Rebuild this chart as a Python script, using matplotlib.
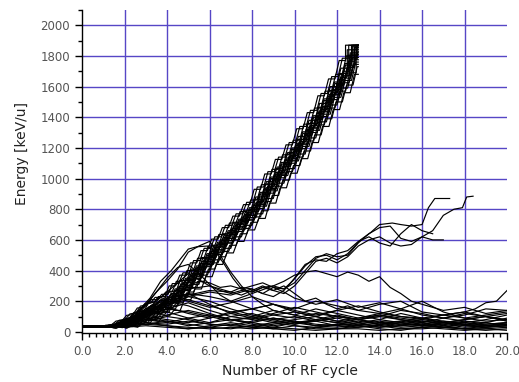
import numpy as np
import matplotlib
matplotlib.use("Agg")
import matplotlib.pyplot as plt
from matplotlib.ticker import MultipleLocator, AutoMinorLocator

# accelerated bunch: staircase levels (start of each flat step, energy)
bunch_x = [1.5, 2.0, 2.5, 3.0, 3.5, 4.0, 4.5, 5.0, 5.5, 6.0, 6.5, 7.0, 7.5, 8.0,
           8.5, 9.0, 9.5, 10.0, 10.5, 11.0, 11.5, 12.0, 12.5, 12.8]
bunch_e = [40, 60, 90, 130, 165, 200, 270, 340, 420, 500, 575, 650, 725, 800,
           900, 1000, 1095, 1190, 1295, 1400, 1510, 1620, 1740, 1860]
# particle offsets inside the bunch (phase lag, energy)
bunch_dx = [-0.40, -0.32, -0.25, -0.18, -0.12, -0.06, 0.0, 0.05, 0.10, 0.15, 0.20,
            0.26, 0.32, 0.38, 0.45, -0.28, 0.12, 0.02, 0.24, -0.10, 0.34, -0.20]
bunch_dy = [30, -20, 45, -40, 10, 60, -15, 25, -50, 40, -30,
            5, -60, 20, -10, -55, 65, -5, 50, 0, 35, -70]
bunch_end = 13.0
bunch_top = 1870

# particles staying near injection energy (sampled every RF cycle, 2..20)
low_x = [2, 3, 4, 5, 6, 7, 8, 9, 10, 11, 12, 13, 14, 15, 16, 17, 18, 19, 20]
low_e = [
    [60, 90, 70, 40, 60, 80, 50, 30, 60, 70, 40, 30, 50, 60, 40, 30, 50, 40, 30],
    [50, 70, 100, 80, 50, 40, 70, 90, 60, 40, 30, 50, 70, 50, 40, 60, 50, 30, 40],
    [70, 110, 130, 90, 60, 100, 120, 80, 50, 70, 100, 80, 60, 40, 50, 70, 60, 40, 50],
    [40, 60, 40, 20, 30, 50, 30, 20, 40, 30, 20, 30, 40, 20, 20, 30, 20, 20, 30],
    [80, 130, 160, 120, 90, 120, 150, 110, 90, 120, 100, 80, 110, 90, 70, 60, 80, 100, 70],
    [60, 100, 150, 190, 140, 100, 80, 110, 130, 100, 70, 90, 120, 100, 80, 110, 90, 70, 80],
    [50, 80, 60, 90, 110, 80, 60, 40, 60, 80, 60, 40, 30, 50, 70, 50, 30, 40, 60],
    [30, 40, 30, 20, 40, 60, 40, 20, 10, 30, 50, 40, 20, 10, 30, 40, 20, 10, 20],
    [60, 120, 180, 210, 170, 130, 150, 180, 140, 110, 140, 170, 130, 100, 90, 110, 130, 100, 120],
    [70, 100, 80, 60, 90, 130, 100, 70, 50, 80, 110, 80, 50, 70, 90, 70, 50, 60, 90],
    [40, 50, 70, 50, 30, 20, 40, 60, 40, 20, 20, 40, 60, 70, 50, 30, 20, 40, 50],
    [55, 80, 110, 140, 110, 80, 90, 120, 160, 130, 100, 80, 100, 140, 120, 90, 110, 150, 140],
    [45, 60, 50, 70, 50, 40, 30, 50, 70, 50, 40, 60, 80, 60, 40, 50, 70, 60, 40],
    [65, 110, 150, 130, 100, 70, 100, 140, 110, 80, 60, 80, 100, 80, 60, 40, 60, 80, 110],
    [75, 140, 220, 250, 180, 120, 90, 60, 80, 100, 70, 50, 40, 60, 80, 60, 40, 30, 50],
    [65, 120, 200, 170, 120, 80, 60, 90, 70, 40, 50, 70, 50, 30, 40, 60, 40, 50, 60],
    [55, 100, 170, 230, 200, 150, 110, 80, 100, 70, 90, 60, 30, 40, 60, 30, 20, 30, 40],
    [35, 50, 40, 30, 20, 30, 20, 30, 20, 10, 20, 20, 10, 20, 30, 20, 10, 20, 10],
]

# particles that leave the bunch
m1_x = [0, 1.3, 2.0, 2.6, 3.2, 3.7, 4.2, 4.6, 5.0, 5.4, 5.9, 6.3, 6.7, 7.1, 7.5, 8.0, 8.5,
        9.0, 9.5, 10.0, 10.5, 11.0, 11.5, 12.0, 12.5, 13.0, 14.0, 15.0, 16.0, 17.0, 18.0, 19.0, 20.0]
m1_e = [35, 35, 70, 130, 220, 330, 400, 470, 540, 555, 560, 520, 440, 350, 280, 260, 290,
        270, 300, 250, 200, 220, 180, 150, 170, 140, 120, 150, 110, 90, 120, 100, 80]
m2_x = [0, 1.3, 2.0, 2.5, 3.0, 3.5, 4.0, 4.5, 5.0, 5.5, 6.0, 6.5, 7.0, 7.5, 8.0, 8.5, 9.0,
        10.0, 11.0, 12.0, 13.0, 14.0, 15.0, 16.0, 17.0, 18.0, 19.0, 20.0]
m2_e = [35, 35, 60, 110, 180, 260, 330, 410, 520, 560, 590, 500, 390, 300, 230, 180, 140,
        110, 150, 120, 90, 110, 80, 60, 90, 70, 50, 60]
g1_x = [0, 1.3, 2.0, 3.0, 4.0, 5.0, 5.5, 6.0, 6.5, 7.0, 7.5, 8.0, 8.5, 9.0, 9.5, 9.9, 10.5,
        11.0, 11.5, 12.0, 12.5, 13.1, 13.6, 14.0, 14.6, 15.0, 15.5, 16.0, 16.3, 16.6, 17.3]
g1_e = [35, 35, 60, 120, 210, 300, 330, 320, 290, 300, 280, 300, 320, 290, 280, 330, 430,
        490, 500, 470, 510, 600, 650, 700, 710, 700, 690, 700, 810, 870, 870]
g2_x = [0, 1.3, 2.0, 3.0, 4.0, 5.0, 6.0, 6.5, 7.0, 7.5, 8.0, 8.5, 9.0, 9.5, 10.0, 10.5, 11.0,
        11.5, 12.0, 12.5, 13.0, 13.5, 14.0, 14.5, 15.0, 15.5, 16.0, 16.5, 17.0, 17.5, 17.9, 18.1, 18.4]
g2_e = [35, 35, 55, 110, 200, 280, 300, 270, 250, 270, 260, 290, 300, 280, 320, 400, 480,
        510, 490, 500, 580, 640, 680, 690, 610, 590, 620, 660, 760, 800, 810, 880, 885]
g3_x = [0, 1.3, 2.0, 3.0, 4.0, 5.0, 6.0, 7.0, 7.5, 8.0, 8.5, 9.0, 9.5, 10.0, 10.5, 11.0,
        11.5, 12.0, 12.5, 13.0, 13.5, 14.0, 14.5, 15.0, 15.5, 16.0, 16.5, 17.0]
g3_e = [35, 35, 65, 130, 190, 240, 270, 260, 240, 270, 300, 270, 250, 300, 380, 460,
        480, 450, 490, 560, 600, 620, 580, 560, 570, 620, 600, 600]
g4_x = [0, 1.3, 2.0, 3.0, 4.0, 5.0, 6.0, 7.0, 8.0, 8.5, 9.0, 9.5, 10.0, 10.5, 11.0, 11.5,
        12.0, 12.5, 13.0, 13.5, 14.0, 14.5, 15.0, 15.5, 16.0, 16.5]
g4_e = [35, 35, 50, 100, 170, 230, 260, 240, 280, 250, 230, 270, 350, 440, 470, 460,
        510, 530, 590, 620, 580, 560, 640, 700, 660, 640]
w1_x = [0, 1.3, 2, 3, 4, 5, 6, 7, 8, 9, 9.5, 10, 10.5, 11, 11.5, 12, 12.5, 13, 13.5, 14,
        14.5, 15, 15.5, 16, 17, 18, 19, 20]
w1_e = [35, 35, 60, 120, 190, 250, 230, 200, 250, 300, 330, 370, 390, 400, 380, 360, 390,
        370, 330, 360, 290, 250, 200, 180, 140, 160, 120, 140]
w2_x = [0, 1.3, 2, 3, 4, 5, 6, 7, 8, 9, 10, 11, 12, 13, 14, 15, 16, 17, 18, 18.5, 19, 19.5, 20]
w2_e = [35, 35, 70, 150, 230, 200, 160, 190, 230, 180, 150, 200, 170, 140, 180, 200, 130,
        110, 130, 150, 190, 200, 270]
w3_x = [0, 1.3, 2, 3, 4, 5, 6, 7, 7.5, 8, 8.5, 9, 9.5, 10, 11, 12, 13, 14, 15, 16, 17, 18, 19, 20]
w3_e = [35, 35, 65, 140, 260, 380, 300, 260, 290, 280, 250, 290, 260, 220, 180, 210, 160,
        190, 150, 200, 130, 90, 110, 130]
w4_x = [0, 1.3, 2, 2.5, 3, 3.5, 4, 4.5, 5, 5.5, 6, 6.5, 7, 8, 9, 10, 11, 12, 13, 14, 15,
        16, 17, 18, 19, 20]
w4_e = [35, 35, 60, 100, 170, 260, 350, 420, 440, 380, 310, 240, 200, 150, 180, 130, 100,
        140, 110, 80, 120, 90, 60, 80, 100, 70]

others = [(m1_x, m1_e), (m2_x, m2_e), (g1_x, g1_e), (g2_x, g2_e), (g3_x, g3_e),
          (g4_x, g4_e), (w1_x, w1_e), (w2_x, w2_e), (w3_x, w3_e), (w4_x, w4_e)]

fig = plt.figure(figsize=(5.19, 3.82), dpi=100)
ax = fig.add_axes([0.158, 0.128, 0.819, 0.846])
plt.rcParams['font.family'] = ['Liberation Sans', 'DejaVu Sans']

grid_col = '#5646c6'
for gx in [2, 4, 6, 8, 10, 12, 14, 16, 18]:
    ax.axvline(gx, color=grid_col, lw=1.0, zorder=1)
for gy in range(200, 2001, 200):
    ax.axhline(gy, color=grid_col, lw=1.0, zorder=1)

line_kw = dict(color='black', lw=0.85, zorder=3)

# low energy particles
for ys in low_e:
    ax.plot([0, 1.3] + low_x, [35, 35] + ys, **line_kw)

for xs, ys in others:
    ax.plot(xs, ys, **line_kw)

# bunch staircase, flat part then the rise in the gap
sx, sy = [0, 1.3], [35, 35]
for i in range(len(bunch_x)):
    sx += [bunch_x[i], bunch_x[i] + 0.3 if i < len(bunch_x) - 1 else bunch_end + 0.5]
    sy += [bunch_e[i], bunch_e[i]]
sx = np.array(sx)
sy = np.array(sy, dtype=float)
for dx, dy in zip(bunch_dx, bunch_dy):
    px = sx + np.where(sx > 1.3, dx, 0)
    py = sy + np.where(sx > 1.3, dy * np.clip((sx - 1.3) / 2.0, 0, 1), 0)
    py = np.minimum(py, bunch_top)
    keep = px < bunch_end
    ex = np.interp(bunch_end, px, py)
    ax.plot(list(px[keep]) + [bunch_end], list(py[keep]) + [ex], **line_kw)

ax.set_xlim(0, 20)
ax.set_ylim(-8, 2100)
ax.xaxis.set_major_locator(MultipleLocator(2))
ax.xaxis.set_minor_locator(AutoMinorLocator(6))
ax.yaxis.set_major_locator(MultipleLocator(200))
ax.yaxis.set_minor_locator(MultipleLocator(100))
ax.xaxis.set_major_formatter(plt.FuncFormatter(lambda v, p: '%.1f' % v))
ax.set_yticks(range(0, 2001, 200))

for s in ['top', 'right']:
    ax.spines[s].set_visible(False)
for s in ['left', 'bottom']:
    ax.spines[s].set_linewidth(1.0)
ax.tick_params(which='major', length=5, width=1, labelsize=8.5, labelcolor='#555555')
ax.tick_params(which='minor', length=3, width=1)

ax.set_xlabel('Number of RF cycle', fontsize=10, color='#222222')
ax.set_ylabel('Energy [keV/u]', fontsize=10, color='#222222')
ax.xaxis.set_label_coords(0.49, -0.095)
ax.yaxis.set_label_coords(-0.125, 0.555)

fig.savefig('out.png', dpi=100)
